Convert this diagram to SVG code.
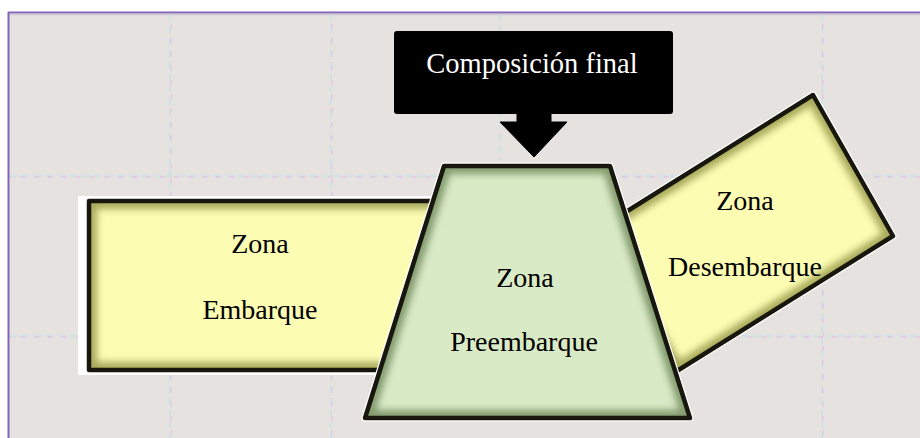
<svg xmlns="http://www.w3.org/2000/svg" width="920" height="438" viewBox="0 0 920 438">
<defs>
<style>
.lbl{font-family:"Liberation Serif","Times New Roman",serif;font-size:28px;fill:#000;text-anchor:middle}
.ttl{font-family:"Liberation Serif","Times New Roman",serif;font-size:28.5px;fill:#fff;text-anchor:middle}
.grid1{stroke:#b9e2ea;stroke-width:2;stroke-dasharray:7 5;fill:none;opacity:.55}
.grid2{stroke:#e2bde6;stroke-width:2;stroke-dasharray:5 9;stroke-dashoffset:4;fill:none;opacity:.5}
.halo{fill:none;stroke:#ffffff;stroke-width:7;stroke-linejoin:round}
.edge{fill:none;stroke:#17170e;stroke-width:4.5;stroke-linejoin:round}
.yel{fill:#fcfcb3}
.grn{fill:#d9eac6}
.shY{fill:none;stroke:#8f8f40;stroke-width:16;opacity:.75}
.shG{fill:none;stroke:#607a4c;stroke-width:16;opacity:.7}
</style>
<filter id="soft" x="-10%" y="-10%" width="120%" height="120%">
<feGaussianBlur stdDeviation="3.5"/>
</filter>
<clipPath id="cpL"><rect x="89" y="201" width="390" height="169"/></clipPath>
<clipPath id="cpR"><polygon points="813,95 893,236 677,371 597,230"/></clipPath>
<clipPath id="cpC"><polygon points="444,166 610,166 690,418 365,418"/></clipPath>
</defs>
<rect x="0" y="0" width="920" height="438" fill="#ffffff"/>
<rect x="8" y="12" width="920" height="440" fill="#e5e2df"/>
<line x1="8" y1="12.5" x2="920" y2="12.5" stroke="#8364b8" stroke-width="2"/>
<line x1="8" y1="14.5" x2="920" y2="14.5" stroke="#cfc8d6" stroke-width="1.5"/>
<line x1="8.5" y1="12" x2="8.5" y2="438" stroke="#8364b8" stroke-width="2"/>
<g id="grid">
<line class="grid1" x1="10" y1="176" x2="920" y2="176"/>
<line class="grid2" x1="10" y1="177" x2="920" y2="177"/>
<line class="grid1" x1="10" y1="336" x2="920" y2="336"/>
<line class="grid2" x1="10" y1="337" x2="920" y2="337"/>
<line class="grid1" x1="170" y1="14" x2="170" y2="438"/>
<line class="grid2" x1="171" y1="14" x2="171" y2="438"/>
<line class="grid1" x1="331" y1="14" x2="331" y2="438"/>
<line class="grid2" x1="332" y1="14" x2="332" y2="438"/>
<line class="grid1" x1="500" y1="14" x2="500" y2="160"/>
<line class="grid1" x1="822" y1="14" x2="822" y2="438"/>
<line class="grid2" x1="823" y1="14" x2="823" y2="438"/>
</g>
<g id="zona-embarque">
<rect x="78" y="196" width="400" height="179" fill="#ffffff"/>
<rect class="yel" x="89" y="201" width="390" height="169"/>
<g clip-path="url(#cpL)"><rect class="shY" x="89" y="201" width="390" height="169" filter="url(#soft)"/></g>
<rect class="edge" x="89" y="201" width="390" height="169"/>
<text class="lbl" x="260" y="253">Zona</text>
<text class="lbl" x="260" y="319">Embarque</text>
</g>
<g id="zona-desembarque">
<polygon class="halo" points="813,95 893,236 677,371 597,230"/>
<polygon class="yel" points="813,95 893,236 677,371 597,230"/>
<g clip-path="url(#cpR)"><polygon class="shY" points="813,95 893,236 677,371 597,230" filter="url(#soft)"/></g>
<polygon class="edge" points="813,95 893,236 677,371 597,230"/>
<text class="lbl" x="745" y="210">Zona</text>
<text class="lbl" x="745" y="276">Desembarque</text>
</g>
<g id="zona-preembarque">
<polygon class="halo" points="444,166 610,166 690,418 365,418"/>
<polygon class="grn" points="444,166 610,166 690,418 365,418"/>
<g clip-path="url(#cpC)"><polygon class="shG" points="444,166 610,166 690,418 365,418" filter="url(#soft)"/></g>
<polygon class="edge" points="444,166 610,166 690,418 365,418"/>
<text class="lbl" x="525" y="287">Zona</text>
<text class="lbl" x="524" y="351">Preembarque</text>
</g>
<g id="composicion-final">
<rect x="394" y="31" width="279" height="83" rx="3" fill="#000000"/>
<text class="ttl" x="532" y="73">Composición final</text>
</g>
<g id="connectors">
<polygon points="517,113 551,113 551,122 567,122 534,157 500,122 517,122" fill="#000000" stroke="#000000" stroke-width="1" stroke-linejoin="round"/>
</g>
</svg>
